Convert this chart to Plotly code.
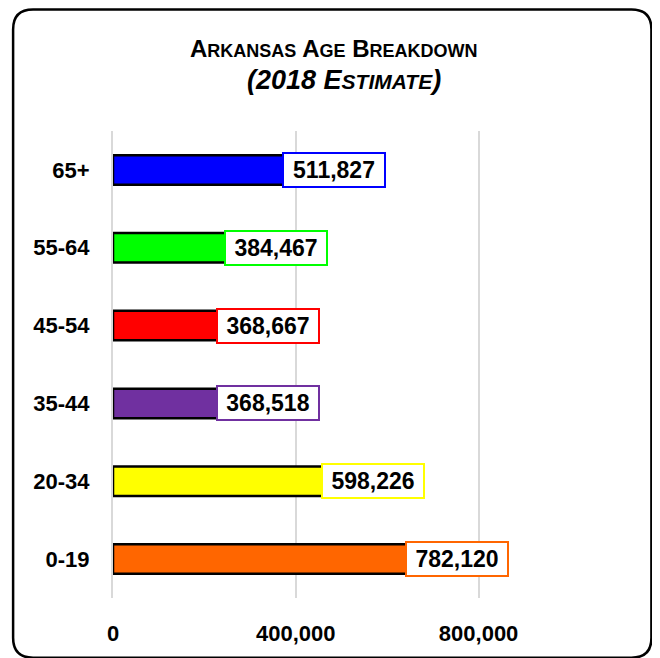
import plotly.graph_objects as go

categories = ["0-19", "20-34", "35-44", "45-54", "55-64", "65+"]
values = [782120, 598226, 368518, 368667, 384467, 511827]
colors = ["#FF6600", "#FFFF00", "#7030A0", "#FF0000", "#00FF00", "#0000FF"]
x_ticks = [0, 400000, 800000]
x_tick_labels = ["0", "400,000", "800,000"]

BASE = "Liberation Sans, Arial, sans-serif"

# figure coordinates (page has an 8px body margin)
W, H = 652, 650
L, R, T, B = 105, 562.5, 123, 592

def px(x):
    return (x - L) / (R - L)

def py(y):
    return (B - y) / (B - T)

fig = go.Figure()
fig.add_trace(go.Bar(
    y=categories, x=values, orientation="h",
    marker=dict(color=colors, line=dict(color="black", width=2.5)),
    width=0.38, hoverinfo="skip",
))

annotations = []
for c, v, col in zip(categories, values, colors):
    annotations.append(dict(
        x=v, y=c, xref="x", yref="y", text=format(v, ","),
        showarrow=False, xanchor="center", xshift=-13,
        font=dict(family=BASE, size=23, color="black", weight="bold"),
        bgcolor="white", bordercolor=col, borderwidth=2, borderpad=2,
        width=96, height=28,
    ))

def sc(word, small):
    return word[0] + "<span style='font-size:%dpx'>%s</span>" % (small, word[1:])

line1 = " ".join(sc(w, 18.5) for w in ["ARKANSAS", "AGE", "BREAKDOWN"])
line2 = "<i>(2018 E<span style='font-size:21px'>STIMATE</span>)</i>"
annotations.append(dict(x=px(326), y=py(40), xref="paper", yref="paper", text=line1,
                        showarrow=False, xanchor="center", yanchor="middle",
                        font=dict(family=BASE, size=24, color="black", weight="bold")))
annotations.append(dict(x=px(336), y=py(72), xref="paper", yref="paper", text=line2,
                        showarrow=False, xanchor="center", yanchor="middle",
                        font=dict(family=BASE, size=27, color="black", weight="bold")))

# rounded border
x0, y0, x1, y1, r = px(5), py(1), px(644), py(652), 20
rx = r / (R - L)
ry = r / (B - T)
path = (f"M {x0+rx},{y0} L {x1-rx},{y0} Q {x1},{y0} {x1},{y0-ry} "
        f"L {x1},{y1+ry} Q {x1},{y1} {x1-rx},{y1} L {x0+rx},{y1} "
        f"Q {x0},{y1} {x0},{y1+ry} L {x0},{y0-ry} Q {x0},{y0} {x0+rx},{y0} Z")

fig.update_layout(
    width=W, height=H,
    margin=dict(l=L, r=W - R, t=T, b=H - B),
    paper_bgcolor="white", plot_bgcolor="white",
    showlegend=False,
    annotations=annotations,
    shapes=[dict(type="path", path=path, xref="paper", yref="paper",
                 line=dict(color="black", width=2.5), layer="above")],
    xaxis=dict(range=[0, 1000000], tickvals=x_ticks, ticktext=x_tick_labels,
               showgrid=True, gridcolor="#d9d9d9", gridwidth=2,
               zeroline=False, showline=False, ticks="",
               ticklabelstandoff=20,
               tickfont=dict(family=BASE, size=22, color="black", weight="bold"),
               fixedrange=True),
    yaxis=dict(categoryorder="array", categoryarray=categories,
               showline=True, linecolor="#d9d9d9", linewidth=2,
               ticks="", showgrid=False, ticklabelstandoff=17,
               tickfont=dict(family=BASE, size=22, color="black", weight="bold"),
               fixedrange=True),
)

fig.write_html("out.html")
